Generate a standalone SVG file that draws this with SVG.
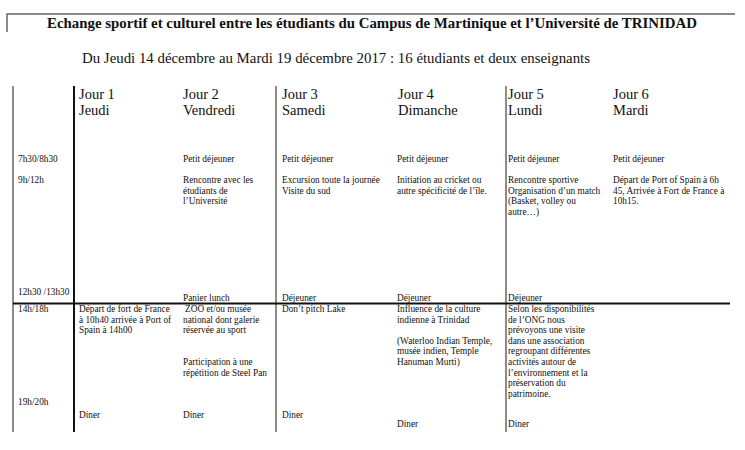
<svg xmlns="http://www.w3.org/2000/svg" width="745" height="450" viewBox="0 0 745 450">
<style>
text{font-family:"Liberation Serif","Times New Roman",serif;fill:#111}
.t{font-size:14px;font-weight:bold}
.s{font-size:14.5px}
.h{font-size:14.5px}
.c{font-size:9.3px}
.g{stroke:#666;stroke-width:1.5;fill:none}
.k{stroke:#111;stroke-width:2;fill:none}
</style>
<rect width="745" height="450" fill="#fff"/>
<g id="frame">
<polyline class="g" points="7,32 7,14 735,14"/>
<line class="g" x1="13" y1="86" x2="13" y2="432"/>
<line class="k" x1="74" y1="86" x2="74" y2="432"/>
<line class="g" x1="276" y1="86" x2="276" y2="432"/>
<line class="g" x1="506" y1="86" x2="506" y2="432"/>
<line class="k" x1="13" y1="303.5" x2="730" y2="303.5" stroke-width="1.5"/>
</g>
<g id="title">
<text class="t" x="47" y="28" textLength="650" lengthAdjust="spacingAndGlyphs">Echange sportif et culturel entre les étudiants du Campus de Martinique et l’Université de TRINIDAD</text>
<text class="s" x="82" y="63" textLength="508" lengthAdjust="spacingAndGlyphs">Du Jeudi 14 décembre au Mardi 19 décembre 2017 : 16 étudiants et deux enseignants</text>
</g>
<g id="times">
<text class="c" x="18" y="162">7h30/8h30</text>
<text class="c" x="18" y="183">9h/12h</text>
<text class="c" x="18" y="295">12h30 /13h30</text>
<text class="c" x="18" y="312">14h/18h</text>
<text class="c" x="18" y="405">19h/20h</text>
</g>
<g id="jour1">
<text class="h" x="79" y="99">Jour 1</text>
<text class="h" x="79" y="115">Jeudi</text>
<text class="c" x="79" y="312">Départ de fort de France<tspan x="79" dy="10.6">à 10h40 arrivée à Port of</tspan><tspan x="79" dy="10.6">Spain à 14h00</tspan></text>
<text class="c" x="79" y="418">Diner</text>
</g>
<g id="jour2">
<text class="h" x="183" y="99">Jour 2</text>
<text class="h" x="183" y="115">Vendredi</text>
<text class="c" x="183" y="162">Petit déjeuner</text>
<text class="c" x="183" y="183">Rencontre avec les<tspan x="183" dy="10.6">étudiants de</tspan><tspan x="183" dy="10.6">l’Université</tspan></text>
<text class="c" x="183" y="301">Panier lunch</text>
<text class="c" x="185" y="312">ZOO et/ou musée<tspan x="183" dy="10.6">national dont galerie</tspan><tspan x="183" dy="10.6">réservée au sport</tspan></text>
<text class="c" x="183" y="365">Participation à une<tspan x="183" dy="10.6">répétition de Steel Pan</tspan></text>
<text class="c" x="183" y="418">Diner</text>
</g>
<g id="jour3">
<text class="h" x="282" y="99">Jour 3</text>
<text class="h" x="282" y="115">Samedi</text>
<text class="c" x="282" y="162">Petit déjeuner</text>
<text class="c" x="282" y="183">Excursion toute la journée<tspan x="282" dy="10.6">Visite du sud</tspan></text>
<text class="c" x="282" y="301">Déjeuner</text>
<text class="c" x="282" y="312">Don’t pitch Lake</text>
<text class="c" x="282" y="418">Diner</text>
</g>
<g id="jour4">
<text class="h" x="398" y="99">Jour 4</text>
<text class="h" x="398" y="115">Dimanche</text>
<text class="c" x="397" y="162">Petit déjeuner</text>
<text class="c" x="397" y="183">Initiation au cricket ou<tspan x="397" dy="10.6">autre spécificité de l’île.</tspan></text>
<text class="c" x="397" y="301">Déjeuner</text>
<text class="c" x="397" y="312">Influence de la culture<tspan x="397" dy="10.6">indienne à Trinidad</tspan><tspan x="397" dy="21.2">(Waterloo Indian Temple,</tspan><tspan x="397" dy="10.6">musée indien, Temple</tspan><tspan x="397" dy="10.6">Hanuman Murti)</tspan></text>
<text class="c" x="397" y="427">Diner</text>
</g>
<g id="jour5">
<text class="h" x="508" y="99">Jour 5</text>
<text class="h" x="508" y="115">Lundi</text>
<text class="c" x="508" y="162">Petit déjeuner</text>
<text class="c" x="508" y="183">Rencontre sportive<tspan x="508" dy="10.6">Organisation d’un match</tspan><tspan x="508" dy="10.6">(Basket, volley ou</tspan><tspan x="508" dy="10.6">autre…)</tspan></text>
<text class="c" x="508" y="301">Déjeuner</text>
<text class="c" x="508" y="312">Selon les disponibilités<tspan x="508" dy="10.6">de l’ONG nous</tspan><tspan x="508" dy="10.6">prévoyons une visite</tspan><tspan x="508" dy="10.6">dans une association</tspan><tspan x="508" dy="10.6">regroupant différentes</tspan><tspan x="508" dy="10.6">activités autour de</tspan><tspan x="508" dy="10.6">l’environnement et la</tspan><tspan x="508" dy="10.6">préservation du</tspan><tspan x="508" dy="10.6">patrimoine.</tspan></text>
<text class="c" x="508" y="427">Diner</text>
</g>
<g id="jour6">
<text class="h" x="613" y="99">Jour 6</text>
<text class="h" x="613" y="115">Mardi</text>
<text class="c" x="613" y="162">Petit déjeuner</text>
<text class="c" x="613" y="183">Départ de Port of Spain à 6h<tspan x="613" dy="10.6">45, Arrivée à Fort de France à</tspan><tspan x="613" dy="10.6">10h15.</tspan></text>
</g>
</svg>
